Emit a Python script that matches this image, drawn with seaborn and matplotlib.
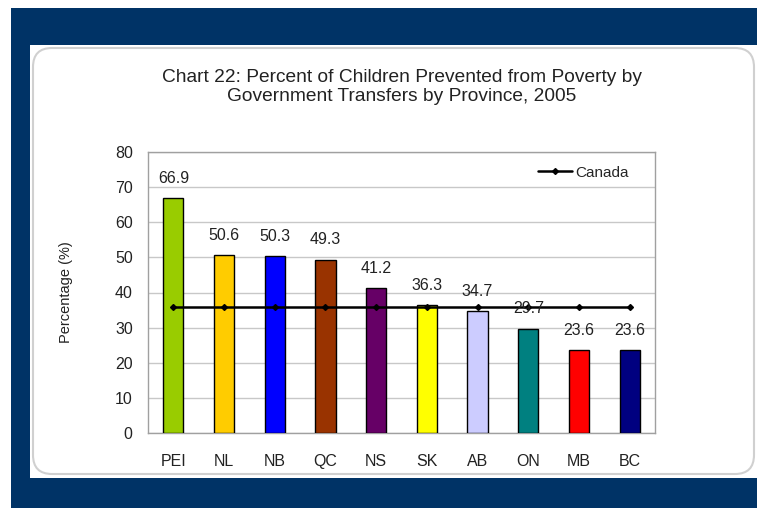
import numpy as np
import pandas as pd
import seaborn as sns
import matplotlib
matplotlib.use("Agg")
from matplotlib import pyplot as plt
from matplotlib.patches import Rectangle, FancyBboxPatch

provinces = ["PEI", "NL", "NB", "QC", "NS", "SK", "AB", "ON", "MB", "BC"]
percent = [66.9, 50.6, 50.3, 49.3, 41.2, 36.3, 34.7, 29.7, 23.6, 23.6]
canada = 35.9
bar_colors = ["#99CC00", "#FFCC00", "#0000FF", "#993300", "#660066",
              "#FFFF00", "#CCCCFF", "#008080", "#FF0000", "#000080"]

sns.set_style("white")
plt.rcParams["font.family"] = ["Liberation Sans", "DejaVu Sans"]

W, H = 762, 508
fig = plt.figure(figsize=(W / 100, H / 100), dpi=100)
fig.patch.set_facecolor("white")

# navy frame and white rounded panel (behind the axes)
fig.patches.append(Rectangle((11 / W, 0), 746 / W, 500 / H, transform=fig.transFigure,
                             facecolor="#003366", edgecolor="none", zorder=-3))
fig.patches.append(Rectangle((30 / W, 30 / H), 727 / W, 433 / H, transform=fig.transFigure,
                             facecolor="white", edgecolor="none", zorder=-2))
fig.patches.append(FancyBboxPatch((33 / W, 34 / H), 721 / W, 426 / H,
                                  boxstyle="round,pad=0,rounding_size=0.025",
                                  transform=fig.transFigure, facecolor="white",
                                  edgecolor="#D0D0D0", linewidth=1.5, zorder=-1,
                                  mutation_aspect=W / H))

ax = fig.add_axes([148 / W, (H - 433) / H, 507 / W, 281 / H])
ax.set_zorder(5)
ax.set_facecolor("white")
df = pd.DataFrame({"Province": provinces, "Percent": percent})
sns.barplot(data=df, x="Province", y="Percent", hue="Province", palette=bar_colors,
            saturation=1, legend=False, width=0.4, edgecolor="black", linewidth=1,
            ax=ax, zorder=3)

x = np.arange(len(provinces))
ax.plot(x, [canada] * len(provinces), color="black", linewidth=1.8, marker="D",
        markersize=3, zorder=4, label="Canada")

for xi, v in zip(x, percent):
    ax.annotate(f"{v}", (xi, v), xytext=(0, 9), textcoords="offset points",
                ha="center", va="bottom", fontsize=11.5, color="#222222", zorder=5)

ax.set_xlim(-0.5, len(provinces) - 0.5)
ax.set_ylim(0, 80)
ax.set_yticks(range(0, 81, 10))
ax.yaxis.grid(True, color="#C8C8C8", linewidth=1)
ax.set_axisbelow(True)
for s in ax.spines.values():
    s.set_color("#A0A0A0")
    s.set_linewidth(1)

ax.tick_params(axis="y", length=5, color="#A0A0A0", labelsize=11.5, pad=6,
               labelcolor="#222222")
ax.set_xticks(x)
ax.set_xticks(np.arange(-0.5, len(provinces)), minor=True)
ax.tick_params(axis="x", which="major", length=0, pad=15, labelsize=11.5,
               labelcolor="#222222")
ax.tick_params(axis="x", which="minor", length=6, color="#A0A0A0")

ax.set_xlabel("")
ax.set_ylabel("Percentage (%)", fontsize=10.5, labelpad=30, color="#222222")

leg = ax.legend(loc="upper right", frameon=False, fontsize=11, handlelength=2.2,
                bbox_to_anchor=(0.975, 1.0), borderaxespad=0.5, handletextpad=0.2)

fig.text(402 / W, 1 - 87 / H,
         "Chart 22: Percent of Children Prevented from Poverty by\nGovernment Transfers by Province, 2005",
         ha="center", va="center", fontsize=13.8, color="#222222", linespacing=1.2)

fig.savefig("out.png", dpi=100)
